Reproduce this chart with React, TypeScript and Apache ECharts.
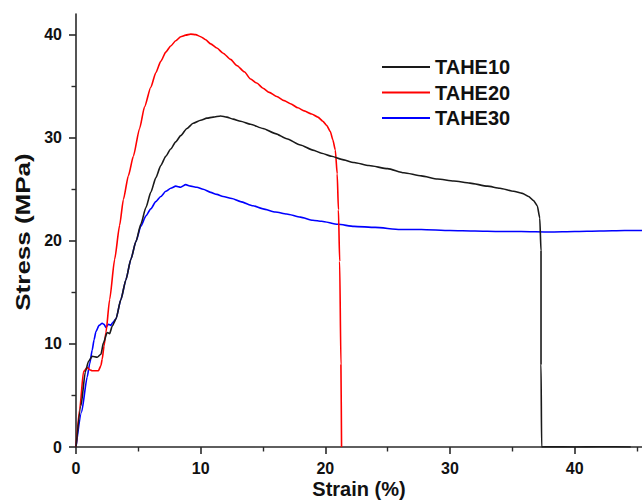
import React, { useEffect, useRef } from "react";
import * as echarts from "echarts";

const seriesNames = ["TAHE10", "TAHE20", "TAHE30"];
const seriesColors = ["#1a1a1a", "#ff0000", "#0000ff"];
const xTitle = "Strain (%)";
const yTitle = "Stress (MPa)";

const tahe10: number[][] = [
  [0, 0], [0.4, 4.0], [0.75, 7.3], [1.0, 8.3], [1.3, 8.8], [1.7, 8.7], [2.0, 9.0], [2.2, 10.1],
  [2.5, 11.1], [2.7, 11.0], [2.9, 11.7], [3.2, 12.4], [3.6, 14.3], [4.0, 16.2], [4.4, 18.2],
  [4.8, 19.9], [5.2, 21.6], [5.6, 23.2], [6.0, 24.7], [6.4, 26.1], [6.8, 27.3], [7.2, 28.2],
  [7.6, 28.9], [8.0, 29.6], [8.4, 30.2], [8.9, 30.9], [9.4, 31.4], [10.0, 31.7], [10.5, 31.9],
  [11.0, 32.0], [11.6, 32.1], [12.1, 32.0], [12.6, 31.8], [13.2, 31.6], [14.0, 31.3], [15.0, 30.9],
  [16.0, 30.4], [16.9, 29.9], [18.0, 29.3], [19.0, 28.8], [19.7, 28.5], [20.5, 28.2], [21.3, 27.9],
  [22.3, 27.6], [23.5, 27.3], [25.0, 27.0], [26.3, 26.6], [27.7, 26.3], [29.0, 26.0], [30.3, 25.8],
  [31.6, 25.6], [33.0, 25.3], [34.0, 25.1], [35.1, 24.8], [35.8, 24.6], [36.3, 24.3], [36.7, 23.9],
  [37.0, 23.4], [37.2, 22.2], [37.3, 19.0], [37.3, 8.0], [37.35, 0], [38.0, 0.02], [40.0, 0],
  [42.0, 0.03], [44.5, 0],
];

const tahe20: number[][] = [
  [0, 0], [0.3, 3.7], [0.6, 7.3], [0.9, 7.7], [1.1, 7.5], [1.3, 7.4], [1.6, 7.4], [1.8, 7.4],
  [2.0, 7.9], [2.1, 8.5], [2.25, 9.8], [2.4, 11.1], [2.7, 14.3], [3.1, 18.2], [3.5, 21.5],
  [3.8, 24.0], [4.2, 26.3], [4.6, 28.2], [5.1, 30.9], [5.5, 33.0], [6.0, 34.9], [6.4, 36.3],
  [6.8, 37.4], [7.2, 38.3], [7.6, 38.9], [8.0, 39.4], [8.4, 39.8], [8.8, 39.95], [9.2, 40.05],
  [9.6, 40.0], [10.0, 39.8], [10.4, 39.5], [10.8, 39.1], [11.3, 38.7], [11.8, 38.2], [12.4, 37.6],
  [12.9, 37.0], [13.5, 36.4], [14.0, 35.7], [14.5, 35.3], [15.0, 34.8], [15.5, 34.4], [16.1, 34.0],
  [16.7, 33.6], [17.2, 33.3], [17.8, 32.9], [18.3, 32.6], [18.9, 32.3], [19.4, 32.0], [19.8, 31.6],
  [20.1, 31.2], [20.4, 30.6], [20.6, 29.8], [20.8, 28.8], [20.95, 26.5], [21.05, 23.0],
  [21.15, 18.0], [21.25, 8.0], [21.3, 0],
];

const tahe30: number[][] = [
  [0, 0], [0.45, 3.4], [0.9, 6.8], [1.1, 8.1], [1.3, 9.4], [1.45, 10.4], [1.6, 11.2], [1.85, 11.8],
  [2.1, 12.0], [2.25, 11.9], [2.4, 11.6], [2.6, 11.9], [2.8, 11.8], [2.9, 12.0], [3.2, 12.4],
  [3.6, 14.3], [4.0, 16.2], [4.4, 18.2], [4.8, 19.9], [5.2, 21.4], [5.6, 22.4], [6.0, 23.1],
  [6.4, 23.8], [6.8, 24.3], [7.2, 24.8], [7.6, 25.1], [8.0, 25.3], [8.4, 25.2], [8.8, 25.45],
  [9.2, 25.3], [9.7, 25.2], [10.2, 25.0], [10.8, 24.7], [11.3, 24.5], [11.8, 24.3], [12.5, 24.1],
  [13.2, 23.8], [14.2, 23.4], [15.0, 23.1], [16.0, 22.8], [16.9, 22.6], [18.0, 22.3], [19.0, 22.0],
  [19.7, 21.9], [21.0, 21.6], [22.3, 21.4], [24.0, 21.3], [26.0, 21.1], [27.7, 21.1], [30.0, 21.0],
  [32.0, 20.95], [34.0, 20.9], [35.7, 20.9], [38.0, 20.85], [40.0, 20.9], [42.0, 20.95],
  [44.0, 21.0], [45.4, 21.0],
];

const seriesData = [tahe10, tahe20, tahe30];

// axis ranges and tick positions
const X_MIN = 0;
const X_MAX = 45.4;
const Y_MIN = 0;
const Y_MAX = 42;
const X_MAJOR = [0, 40, 10]; // first, last, step
const X_MINOR = [5, 45, 10];
const Y_MAJOR = [0, 40, 10];
const Y_MINOR = [5, 35, 10];

const FONT = 'Arial, "Liberation Sans", sans-serif';
const AXIS_COLOR = "#2a2a2a";
const W = 642;
const H = 502;
const GL = 76;
const GR = 0;
const GT = 14;
const GB = 55;

export default function App() {
  const ref = useRef<HTMLDivElement>(null);

  useEffect(() => {
    if (!ref.current) return;
    const chart = echarts.init(ref.current, undefined, { renderer: "svg" });

    const pxX = (W - GL - GR) / (X_MAX - X_MIN);
    const pxY = (H - GT - GB) / (Y_MAX - Y_MIN);
    const xPos = (v: number) => GL + (v - X_MIN) * pxX;
    const yPos = (v: number) => H - GB - (v - Y_MIN) * pxY;

    const hidden = { show: false };
    const tickStyle = (len: number, w: number) => ({
      show: true,
      inside: false,
      length: len,
      lineStyle: { color: AXIS_COLOR, width: w },
    });
    const labelStyle = {
      fontFamily: FONT,
      fontSize: 16,
      fontWeight: "bold",
      color: "#111",
    };
    const gridBase = { outerBoundsMode: "none", containLabel: false };

    const option: any = {
      animation: false,
      backgroundColor: "#ffffff",
      grid: [
        // 0: data grid with axis lines
        { ...gridBase, left: GL, right: GR, top: GT, bottom: GB },
        // 1: major ticks + labels
        { ...gridBase, left: xPos(X_MAJOR[0]), right: W - xPos(X_MAJOR[1]), top: yPos(Y_MAJOR[1]), bottom: H - yPos(Y_MAJOR[0]) },
        // 2: x minor ticks
        { ...gridBase, left: xPos(X_MINOR[0]), right: W - xPos(X_MINOR[1]), top: GT, bottom: GB },
        // 3: y minor ticks
        { ...gridBase, left: GL, right: GR, top: yPos(Y_MINOR[1]), bottom: H - yPos(Y_MINOR[0]) },
      ],
      legend: {
        orient: "vertical",
        left: 382,
        top: 57,
        padding: 0,
        itemWidth: 48,
        itemHeight: 2,
        itemGap: 5.5,
        icon: "rect",
        data: seriesNames,
        textStyle: { fontFamily: FONT, fontSize: 20, fontWeight: "bold", color: "#111", lineHeight: 20 },
      },
      xAxis: [
        {
          gridIndex: 0,
          type: "value",
          min: X_MIN,
          max: X_MAX,
          name: xTitle,
          nameLocation: "middle",
          nameGap: 32,
          nameTextStyle: { fontFamily: FONT, fontSize: 20, fontWeight: "bold", color: "#111", lineHeight: 20 },
          axisLine: { show: true, onZero: false, lineStyle: { color: AXIS_COLOR, width: 1.6 } },
          axisTick: hidden,
          axisLabel: hidden,
          splitLine: hidden,
        },
        {
          gridIndex: 1,
          type: "value",
          min: X_MAJOR[0],
          max: X_MAJOR[1],
          interval: X_MAJOR[2],
          axisLine: { show: false, onZero: false },
          axisTick: tickStyle(7, 1.6),
          axisLabel: { ...labelStyle, margin: 13 },
          splitLine: hidden,
        },
        {
          gridIndex: 2,
          type: "value",
          min: X_MINOR[0],
          max: X_MINOR[1],
          interval: X_MINOR[2],
          axisLine: { show: false, onZero: false },
          axisTick: tickStyle(4.5, 1.4),
          axisLabel: hidden,
          splitLine: hidden,
        },
        {
          gridIndex: 3,
          type: "value",
          min: X_MIN,
          max: X_MAX,
          show: false,
        },
      ],
      yAxis: [
        {
          gridIndex: 0,
          type: "value",
          min: Y_MIN,
          max: Y_MAX,
          axisLine: { show: true, onZero: false, lineStyle: { color: AXIS_COLOR, width: 1.6 } },
          axisTick: hidden,
          axisLabel: hidden,
          splitLine: hidden,
        },
        {
          gridIndex: 1,
          type: "value",
          min: Y_MAJOR[0],
          max: Y_MAJOR[1],
          interval: Y_MAJOR[2],
          axisLine: { show: false, onZero: false },
          axisTick: tickStyle(7, 1.6),
          axisLabel: { ...labelStyle, margin: 14 },
          splitLine: hidden,
        },
        {
          gridIndex: 2,
          type: "value",
          min: Y_MIN,
          max: Y_MAX,
          show: false,
        },
        {
          gridIndex: 3,
          type: "value",
          min: Y_MINOR[0],
          max: Y_MINOR[1],
          interval: Y_MINOR[2],
          axisLine: { show: false, onZero: false },
          axisTick: tickStyle(4.5, 1.4),
          axisLabel: hidden,
          splitLine: hidden,
        },
      ],
      graphic: [
        {
          type: "text",
          x: 23,
          y: 232,
          rotation: Math.PI / 2,
          scaleX: 1.3,
          style: {
            text: yTitle,
            fontFamily: FONT,
            fontSize: 20,
            fontWeight: "bold",
            fill: "#111",
            textAlign: "center",
            textVerticalAlign: "middle",
          },
        },
      ],
      series: seriesNames.map((name, i) => ({
        name,
        type: "line",
        xAxisIndex: 0,
        yAxisIndex: 0,
        data: seriesData[i],
        showSymbol: false,
        symbol: "none",
        smooth: 0.2,
        smoothMonotone: "x",
        lineStyle: { color: seriesColors[i], width: 1.6 },
        itemStyle: { color: seriesColors[i] },
        z: 3 - i,
      })),
    };
    chart.setOption(option);
    return () => chart.dispose();
  }, []);

  return (
    <div
      ref={ref}
      style={{ position: "fixed", left: 0, top: 0, width: W, height: H }}
    />
  );
}
